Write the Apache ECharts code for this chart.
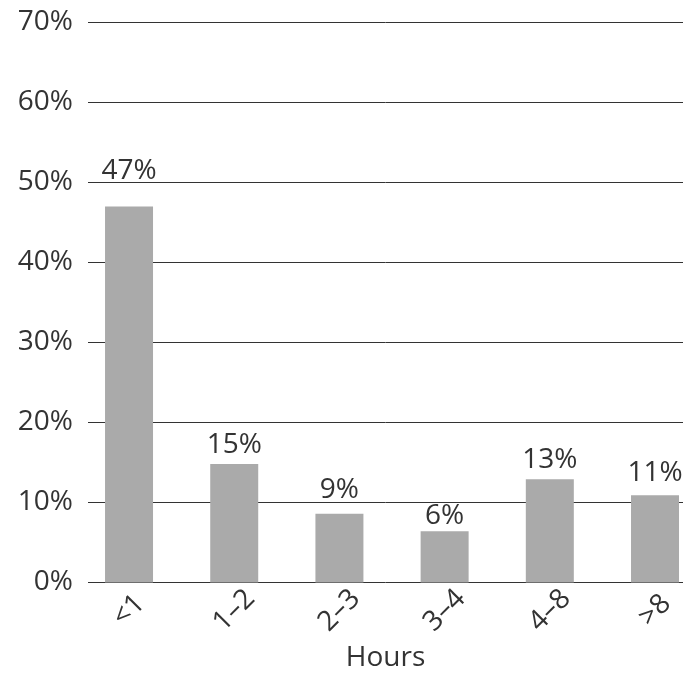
<!DOCTYPE html>
<html>
<head>
<meta charset="utf-8">
<script src="https://cdn.jsdelivr.net/npm/echarts@6/dist/echarts.min.js"></script>
<style>html,body{margin:0;padding:0;background:#fff}#c{width:687px;height:674px}</style>
</head>
<body>
<div id="c"></div>
<script>
const categories = ['<1', '1–2', '2–3', '3–4', '4–8', '>8'];
const values = [47, 14.8, 8.6, 6.4, 12.9, 10.9];
const valueLabels = ['47%', '15%', '9%', '6%', '13%', '11%'];
const yTicks = [0, 10, 20, 30, 40, 50, 60, 70];

const labelDistance = [21, 5, 10, 1, 5, 8];
const FONT = 'Open Sans';
const TXT = '#333333';
// x range of the plot in category-index units (bars are not centred in the frame)
const X_MIN = -0.39, X_MAX = 5.266;

const chart = echarts.init(document.getElementById('c'), null, {renderer: 'canvas'});
chart.setOption({
  animation: false,
  backgroundColor: '#ffffff',
  grid: {left: 88, width: 595, top: 22.5, height: 560, containLabel: false, outerBoundsMode: 'none'},
  xAxis: {
    type: 'value', min: X_MIN, max: X_MAX,
    axisLine: {show: false}, axisTick: {show: false}, splitLine: {show: false},
    axisLabel: {customValues: categories.map((c, i) => i), formatter: v => categories[Math.round(v)],
                rotate: 45, align: 'center', verticalAlign: 'middle', margin: 28,
                showMinLabel: true, showMaxLabel: true, hideOverlap: false,
                fontFamily: FONT, fontSize: 28, color: TXT},
    name: 'Hours', nameLocation: 'middle', nameGap: 61,
    nameTextStyle: {fontFamily: FONT, fontSize: 28, color: TXT}
  },
  yAxis: {
    type: 'value', min: yTicks[0], max: yTicks[yTicks.length - 1], interval: 10,
    axisLine: {show: false}, axisTick: {show: false},
    axisLabel: {formatter: v => v + '%', margin: 15, fontFamily: FONT, fontSize: 28, color: TXT},
    splitLine: {show: true, lineStyle: {color: '#333333', width: 1}}
  },
  series: [{
    type: 'bar', barWidth: 48,
    itemStyle: {color: '#aaaaaa'},
    data: values.map((v, i) => ({
      value: [i, v],
      label: {show: true, position: 'top', distance: labelDistance[i],
              formatter: () => valueLabels[i],
              fontFamily: FONT, fontSize: 28, color: TXT}
    }))
  }]
});
</script>
</body>
</html>
